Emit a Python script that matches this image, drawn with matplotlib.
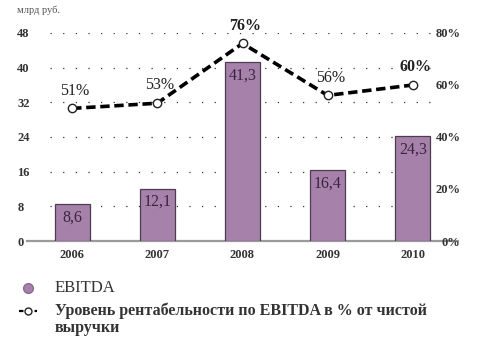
import matplotlib
matplotlib.use('Agg')
import matplotlib.pyplot as plt
from matplotlib.lines import Line2D

years = ['2006', '2007', '2008', '2009', '2010']
ebitda = [8.6, 12.1, 41.3, 16.4, 24.3]
ebitda_labels = ['8,6', '12,1', '41,3', '16,4', '24,3']
margin = [51, 53, 76, 56, 60]
margin_labels = ['51%', '53%', '76%', '56%', '60%']
left_ticks = [0, 8, 16, 24, 32, 40, 48]
right_ticks = [0, 20, 40, 60, 80]
right_tick_labels = ['0%', '20%', '40%', '60%', '80%']

SERIF = ['Liberation Serif', 'DejaVu Serif']
plt.rcParams['font.family'] = SERIF

W, H = 482, 343
fig = plt.figure(figsize=(W / 100, H / 100), dpi=100)
L, R, B, T = 50, 435, 241, 33
ax = fig.add_axes([L / W, 1 - B / H, (R - L) / W, (B - T) / H])
ax2 = ax.twinx()

x = list(range(len(years)))
bar_color = '#a682aa'
ax.bar(x, ebitda, width=0.41, color=bar_color, edgecolor='#4d3b50', linewidth=0.9, zorder=3)
for xi, v, lab in zip(x, ebitda, ebitda_labels):
    ax.annotate(lab, (xi, v), xytext=(0, -4), textcoords='offset points',
                ha='center', va='top', fontsize=11.5, color='#3b2442', zorder=4)

ax.set_xlim(-0.26, 4.26)
ax.set_ylim(0, 48)
ax2.set_ylim(0, 80)

# dotted grid
for t in left_ticks[1:]:
    ax.axhline(t, color='#333333', lw=0.9, linestyle=(0, (1.0, 9.1)), zorder=1)
ax.axhline(0, xmin=-0.06, xmax=1.06, color='#9a9a9a', lw=1.6, zorder=2, clip_on=False)

ax.set_xticks(x)
ax.set_xticklabels(years, fontsize=9, fontweight='bold', color='#333333')
ax.tick_params(axis='x', length=0, pad=6)

ax.set_yticks(left_ticks)
ax.set_yticklabels([str(t) for t in left_ticks], fontsize=9, fontweight='bold', color='#333333')
ax.tick_params(axis='y', length=0, pad=23.5)
for lbl in ax.get_yticklabels():
    lbl.set_horizontalalignment('left')

ax2.set_yticks(right_ticks)
ax2.set_yticklabels(right_tick_labels, fontsize=9, fontweight='bold', color='#333333')
ax2.tick_params(axis='y', length=0, pad=18.5)
for lbl in ax2.get_yticklabels():
    lbl.set_horizontalalignment('right')

for a in (ax, ax2):
    for s in a.spines.values():
        s.set_visible(False)

ax2.plot(x, margin, color='black', lw=2.6, linestyle=(0, (2.6, 1.3)),
         marker='o', markersize=6, markerfacecolor='white', markeredgecolor='#222222',
         markeredgewidth=1.0, zorder=5)
for xi, v, lab in zip(x, margin, margin_labels):
    ax2.annotate(lab, (xi, v), xytext=(2, 7), textcoords='offset points',
                 ha='center', va='bottom', fontsize=11.5, color='#222222',
                 fontweight='bold' if lab in ('76%', '60%') else 'normal')

fig.text(17 / W, 1 - 10 / H, 'млрд руб.', fontsize=7.5, color='#555555', va='center', ha='left')

# legend
fig.add_artist(Line2D([28 / W], [1 - 288 / H], marker='o', markersize=7,
                      markerfacecolor=bar_color, markeredgecolor='#8a6a8e', linestyle='none',
                      transform=fig.transFigure))
fig.text(55 / W, 1 - 288 / H, 'EBITDA', fontsize=12, color='#333333', va='center', ha='left')
fig.add_artist(Line2D([19 / W, 37 / W], [1 - 311 / H, 1 - 311 / H], color='black', lw=1.6,
                      linestyle=(0, (2, 1.5)), transform=fig.transFigure))
fig.add_artist(Line2D([28 / W], [1 - 311 / H], marker='o', markersize=5,
                      markerfacecolor='white', markeredgecolor='#222222', linestyle='none',
                      transform=fig.transFigure))
fig.text(55 / W, 1 - 311 / H, 'Уровень рентабельности по EBITDA в % от чистой',
         fontsize=11.5, fontweight='bold', color='#333333', va='center', ha='left')
fig.text(55 / W, 1 - 328 / H, 'выручки',
         fontsize=11.5, fontweight='bold', color='#333333', va='center', ha='left')

fig.savefig('out.png', dpi=100)
